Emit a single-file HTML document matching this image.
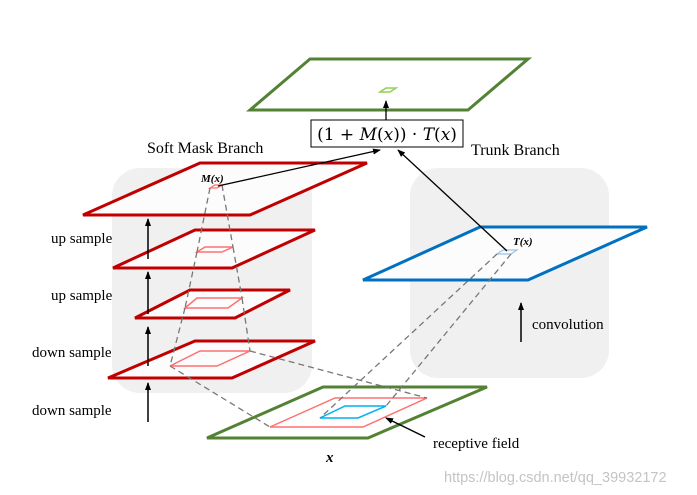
<!DOCTYPE html>
<html><head><style>
body{margin:0;background:#fff;width:697px;height:495px;overflow:hidden;font-family:"Liberation Serif",serif;}
svg{position:absolute;left:0;top:0}
</style></head><body>
<svg width="697" height="495" viewBox="0 0 697 495">
<defs><marker id="a" markerWidth="8" markerHeight="8" refX="7" refY="4" orient="auto" markerUnits="userSpaceOnUse"><path d="M0,1 L8,4 L0,7z" fill="#000"/></marker></defs>
<rect x="112" y="168" width="200" height="225" rx="28" fill="#f0f0f0"/>
<rect x="410" y="168" width="199" height="210" rx="28" fill="#f0f0f0"/>
<polygon points="250,110 310,59 528,59 468,110" fill="#fff" stroke="#548235" stroke-width="3"/>
<polygon points="380,92 386,88 396,88 390,92" fill="none" stroke="#92d050" stroke-width="1.5"/>
<line x1="386" y1="120" x2="386" y2="101" stroke="#000" stroke-width="1.3" marker-end="url(#a)"/>
<rect x="311" y="120" width="152" height="27" fill="#fff" stroke="#000" stroke-width="1"/>
<text x="387" y="140" font-size="17" text-anchor="middle" font-family="DejaVu Serif, serif">(1 + <tspan font-style="italic">M</tspan>(<tspan font-style="italic">x</tspan>)) · <tspan font-style="italic">T</tspan>(<tspan font-style="italic">x</tspan>)</text>
<text x="147" y="153" font-size="16">Soft Mask Branch</text>
<text x="471" y="155" font-size="16">Trunk Branch</text>
<polygon points="83,215 200,163 367,163 250,215" fill="#fcfcfc" stroke="#c00000" stroke-width="3"/>
<polygon points="113,268 195,230 315,230 232,268" fill="#fcfcfc" stroke="#c00000" stroke-width="3"/>
<polygon points="135,318 190,290 290,290 235,318" fill="#fcfcfc" stroke="#c00000" stroke-width="3"/>
<polygon points="108,378 195,341 315,341 232,378" fill="#fcfcfc" stroke="#c00000" stroke-width="3"/>
<polygon points="210,188 215,185 222,185 217,188" fill="none" stroke="#ff7070" stroke-width="1.2"/>
<polygon points="197,252 205,247 233,247 222,252" fill="none" stroke="#ff7070" stroke-width="1.5"/>
<polygon points="185,308 197,298 242,298 228,308" fill="none" stroke="#ff7070" stroke-width="1.5"/>
<polygon points="170,366 200,351 250,351 217,366" fill="none" stroke="#ff7070" stroke-width="1.5"/>
<polygon points="363,280 480,227 647,227 528,280" fill="#fcfcfc" stroke="#0070c0" stroke-width="3"/>
<polygon points="497,254 503,250 517,250 511,254" fill="none" stroke="#9dc3e6" stroke-width="1.2"/>
<polygon points="207,438 323,387 487,387 368,438" fill="#fff" stroke="#548235" stroke-width="3"/>
<polygon points="270,427 335,398 427,398 363,427" fill="none" stroke="#ff7070" stroke-width="1.5"/>
<polygon points="320,418 345,406 386,406 358,418" fill="none" stroke="#00b0f0" stroke-width="1.5"/>
<g stroke="#777" stroke-width="1.3" stroke-dasharray="6,4" fill="none">
<line x1="210" y1="188" x2="197" y2="252"/><line x1="222" y1="185" x2="233" y2="247"/>
<line x1="197" y1="252" x2="185" y2="308"/><line x1="233" y1="247" x2="242" y2="298"/>
<line x1="185" y1="308" x2="170" y2="366"/><line x1="242" y1="298" x2="250" y2="351"/>
<line x1="170" y1="366" x2="270" y2="427"/><line x1="250" y1="351" x2="427" y2="398"/>
<line x1="497" y1="254" x2="320" y2="418"/><line x1="511" y1="254" x2="386" y2="406"/>
</g>
<line x1="218" y1="186" x2="380" y2="150" stroke="#000" stroke-width="1.3" marker-end="url(#a)"/>
<line x1="507" y1="251" x2="398" y2="150" stroke="#000" stroke-width="1.3" marker-end="url(#a)"/>
<text x="201" y="182" font-size="11" font-weight="bold" font-style="italic">M(x)</text>
<text x="513" y="245" font-size="11" font-weight="bold" font-style="italic">T(x)</text>
<g stroke="#000" stroke-width="1.5">
<line x1="148" y1="259" x2="148" y2="219" marker-end="url(#a)"/>
<line x1="148" y1="314" x2="148" y2="272" marker-end="url(#a)"/>
<line x1="148" y1="366" x2="148" y2="327" marker-end="url(#a)"/>
<line x1="148" y1="422" x2="148" y2="383" marker-end="url(#a)"/>
<line x1="521" y1="342" x2="521" y2="303" marker-end="url(#a)"/>
<line x1="425" y1="437" x2="386" y2="418" marker-end="url(#a)"/>
</g>
<g font-size="15">
<text x="51" y="243">up sample</text>
<text x="51" y="300">up sample</text>
<text x="32" y="357">down sample</text>
<text x="32" y="415">down sample</text>
<text x="532" y="329">convolution</text>
<text x="433" y="448">receptive field</text>
<text x="326" y="462" font-weight="bold" font-style="italic">x</text>
</g>
<text x="444" y="482" font-size="14.5" fill="#c4c4c4" font-family="Liberation Sans, sans-serif">https://blog.csdn.net/qq_39932172</text>
</svg>
</body></html>
